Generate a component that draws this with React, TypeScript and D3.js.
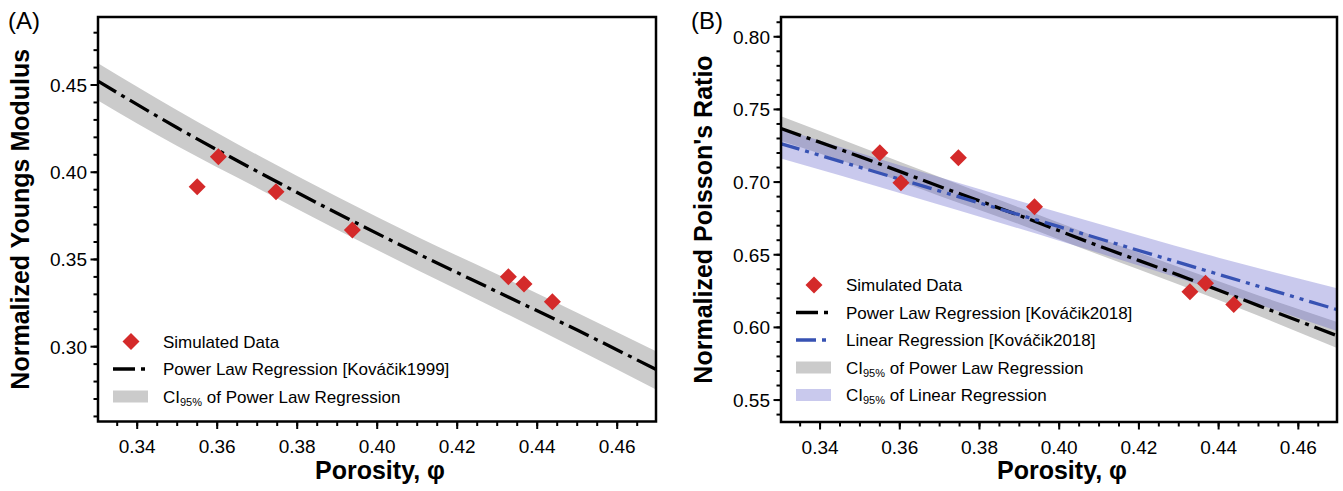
import React, { useEffect, useRef } from 'react';
import * as d3 from 'd3';

// simulated porosity samples (shared by both panels)
const porosity = [0.355, 0.3603, 0.3747, 0.3938, 0.4328, 0.4367, 0.4438];
const youngs = [0.3917, 0.4089, 0.3888, 0.3669, 0.3401, 0.3359, 0.3258];
const poisson = [0.7201, 0.6995, 0.7167, 0.683, 0.6245, 0.6303, 0.6158];

// regression curves
const fitX = [0.33, 0.35, 0.37, 0.39, 0.41, 0.43, 0.45, 0.47];
const youngsFit = [0.4525, 0.4255, 0.4005, 0.3765, 0.3535, 0.3315, 0.3095, 0.2866];
const youngsUpper = [0.4628, 0.4355, 0.41, 0.386, 0.363, 0.3415, 0.3195, 0.2971];
const youngsLower = [0.4414, 0.415, 0.391, 0.367, 0.344, 0.3215, 0.2985, 0.2751];

const poissonFit = [0.737, 0.7175, 0.697, 0.677, 0.656, 0.636, 0.615, 0.594];
const poissonUpper = [0.7455, 0.7245, 0.7035, 0.6825, 0.6615, 0.6415, 0.622, 0.6035];
const poissonLower = [0.7285, 0.7105, 0.6905, 0.671, 0.65, 0.6295, 0.608, 0.5855];

const linX = [0.33, 0.36, 0.40, 0.44, 0.47];
const linFit = [0.7266, 0.702, 0.6693, 0.6365, 0.612];
const linUpper = [0.737, 0.7115, 0.679, 0.648, 0.6268];
const linLower = [0.7163, 0.6925, 0.6596, 0.625, 0.5972];

const xTicks = [0.34, 0.36, 0.38, 0.40, 0.42, 0.44, 0.46];
const youngsTicks = [0.30, 0.35, 0.40, 0.45];
const poissonTicks = [0.55, 0.60, 0.65, 0.70, 0.75, 0.80];

const FONT = '"Liberation Sans", Arial, Helvetica, sans-serif';
const RED = '#d42a2a';
const GREY = '#cbcbcb';
const BLUE = '#3752b3';
const LAVENDER = '#6a6acd';
const DASH_DOT = '22,6,4,6';
const DASH_DOT_DOT = '20,6,4,6,4,6';

const App = () => {
    const ref = useRef();

    useEffect(() => {
        const svg = d3.select(ref.current);
        svg.selectAll('*').remove();

        const diamond = 'M0,-8.5L8.5,0L0,8.5L-8.5,0Z';

        const drawPanel = (cfg) => {
            const g = svg.append('g');
            const x = d3.scaleLinear().domain([0.3302, 0.4697]).range([cfg.left, cfg.right]);
            const y = d3.scaleLinear().domain(cfg.yDomain).range([cfg.bottom, cfg.top]);

            const clipId = 'clip-' + cfg.id;
            svg.append('defs').append('clipPath').attr('id', clipId)
                .append('rect')
                .attr('x', cfg.left).attr('y', cfg.top)
                .attr('width', cfg.right - cfg.left).attr('height', cfg.bottom - cfg.top);

            const plot = g.append('g').attr('clip-path', `url(#${clipId})`);

            cfg.bands.forEach(b => {
                const pts = b.xs.map((v, i) => ({ x: v, lo: b.lo[i], hi: b.hi[i] }));
                const area = d3.area()
                    .x(d => x(d.x))
                    .y0(d => y(d.lo))
                    .y1(d => y(d.hi))
                    .curve(d3.curveMonotoneX);
                plot.append('path').datum(pts)
                    .attr('d', area)
                    .attr('fill', b.color)
                    .attr('fill-opacity', b.opacity);
            });

            cfg.lines.forEach(l => {
                const pts = l.xs.map((v, i) => ({ x: v, y: l.ys[i] }));
                const line = d3.line()
                    .x(d => x(d.x))
                    .y(d => y(d.y))
                    .curve(d3.curveMonotoneX);
                plot.append('path').datum(pts)
                    .attr('d', line)
                    .attr('fill', 'none')
                    .attr('stroke', l.color)
                    .attr('stroke-width', 3.3)
                    .attr('stroke-dasharray', l.dash);
            });

            plot.selectAll('.dot')
                .data(cfg.points)
                .enter().append('path')
                .attr('d', diamond)
                .attr('transform', d => `translate(${x(d.x)},${y(d.y)})`)
                .attr('fill', RED);

            // frame
            g.append('rect')
                .attr('x', cfg.left).attr('y', cfg.top)
                .attr('width', cfg.right - cfg.left).attr('height', cfg.bottom - cfg.top)
                .attr('fill', 'none')
                .attr('stroke', '#000')
                .attr('stroke-width', 2.5);

            // x ticks
            const xMinor = d3.range(0.335, 0.4695, 0.005);
            g.selectAll('.xminor').data(xMinor).enter().append('line')
                .attr('x1', d => x(d)).attr('x2', d => x(d))
                .attr('y1', cfg.bottom).attr('y2', cfg.bottom + 4.5)
                .attr('stroke', '#000').attr('stroke-width', 2);
            g.selectAll('.xmajor').data(xTicks).enter().append('line')
                .attr('x1', d => x(d)).attr('x2', d => x(d))
                .attr('y1', cfg.bottom).attr('y2', cfg.bottom + 7.5)
                .attr('stroke', '#000').attr('stroke-width', 2);
            g.selectAll('.xlabel').data(xTicks).enter().append('text')
                .attr('x', d => x(d))
                .attr('y', cfg.bottom + 31.5)
                .attr('text-anchor', 'middle')
                .attr('font-family', FONT)
                .attr('font-size', 19)
                .text(d => d.toFixed(2));

            // y ticks
            const yMinor = d3.range(Math.ceil(cfg.yDomain[0] * 100), Math.floor(cfg.yDomain[1] * 100) + 1)
                .map(v => v / 100);
            g.selectAll('.yminor').data(yMinor).enter().append('line')
                .attr('x1', cfg.left - 4.5).attr('x2', cfg.left)
                .attr('y1', d => y(d)).attr('y2', d => y(d))
                .attr('stroke', '#000').attr('stroke-width', 2);
            g.selectAll('.ymajor').data(cfg.yTicks).enter().append('line')
                .attr('x1', cfg.left - 7.5).attr('x2', cfg.left)
                .attr('y1', d => y(d)).attr('y2', d => y(d))
                .attr('stroke', '#000').attr('stroke-width', 2);
            g.selectAll('.ylabel').data(cfg.yTicks).enter().append('text')
                .attr('x', cfg.left - 11)
                .attr('y', d => y(d) + 7)
                .attr('text-anchor', 'end')
                .attr('font-family', FONT)
                .attr('font-size', 19)
                .text(d => d.toFixed(2));

            // axis titles
            g.append('text')
                .attr('x', (cfg.left + cfg.right) / 2 + 3)
                .attr('y', 479)
                .attr('text-anchor', 'middle')
                .attr('font-family', FONT)
                .attr('font-weight', 'bold')
                .attr('font-size', 25)
                .text('Porosity, φ');
            g.append('text')
                .attr('transform', `translate(${cfg.left - 69},${(cfg.top + cfg.bottom) / 2}) rotate(-90)`)
                .attr('text-anchor', 'middle')
                .attr('font-family', FONT)
                .attr('font-weight', 'bold')
                .attr('font-size', 25)
                .text(cfg.yTitle);

            // panel tag
            g.append('text')
                .attr('x', cfg.left - 90)
                .attr('y', 29)
                .attr('font-family', FONT)
                .attr('font-size', 24)
                .text(cfg.tag);

            // legend
            const lg = g.append('g').attr('font-family', FONT).attr('font-size', 17);
            cfg.legend.forEach((item, i) => {
                const cy = cfg.legendY + i * cfg.legendStep;
                const lx = cfg.left + 15;
                if (item.kind === 'point') {
                    lg.append('path').attr('d', diamond)
                        .attr('transform', `translate(${lx + 18},${cy})`)
                        .attr('fill', RED);
                } else if (item.kind === 'line') {
                    lg.append('line')
                        .attr('x1', lx).attr('x2', lx + 34)
                        .attr('y1', cy).attr('y2', cy)
                        .attr('stroke', item.color)
                        .attr('stroke-width', 3.3)
                        .attr('stroke-dasharray', item.dash);
                } else {
                    lg.append('rect')
                        .attr('x', lx).attr('y', cy - 6)
                        .attr('width', 35).attr('height', 12)
                        .attr('fill', item.color)
                        .attr('fill-opacity', item.opacity);
                }
                const t = lg.append('text')
                    .attr('x', lx + 50)
                    .attr('y', cy + 6);
                if (item.ci) {
                    t.append('tspan').text('CI');
                    t.append('tspan').attr('font-size', 11).attr('dy', 3).text('95%');
                    t.append('tspan').attr('dy', -3).text(' ' + item.label);
                } else {
                    t.text(item.label);
                }
            });
        };

        drawPanel({
            id: 'a',
            tag: '(A)',
            left: 98, right: 656, top: 17, bottom: 421.5,
            yDomain: [0.2571, 0.489],
            yTicks: youngsTicks,
            yTitle: 'Normalized Youngs Modulus',
            bands: [{ xs: fitX, lo: youngsLower, hi: youngsUpper, color: GREY, opacity: 1 }],
            lines: [{ xs: fitX, ys: youngsFit, color: '#000', dash: DASH_DOT }],
            points: porosity.map((v, i) => ({ x: v, y: youngs[i] })),
            legendY: 341.5,
            legendStep: 27.5,
            legend: [
                { kind: 'point', label: 'Simulated Data' },
                { kind: 'line', label: 'Power Law Regression [Kováčik1999]', color: '#000', dash: DASH_DOT },
                { kind: 'rect', ci: true, label: 'of Power Law Regression', color: GREY, opacity: 1 }
            ]
        });

        drawPanel({
            id: 'b',
            tag: '(B)',
            left: 781, right: 1337, top: 17, bottom: 422,
            yDomain: [0.5349, 0.8136],
            yTicks: poissonTicks,
            yTitle: "Normalized Poisson's Ratio",
            bands: [
                { xs: fitX, lo: poissonLower, hi: poissonUpper, color: GREY, opacity: 1 },
                { xs: linX, lo: linLower, hi: linUpper, color: LAVENDER, opacity: 0.36 }
            ],
            lines: [
                { xs: fitX, ys: poissonFit, color: '#000', dash: DASH_DOT },
                { xs: linX, ys: linFit, color: BLUE, dash: DASH_DOT_DOT }
            ],
            points: porosity.map((v, i) => ({ x: v, y: poisson[i] })),
            legendY: 285,
            legendStep: 27.5,
            legend: [
                { kind: 'point', label: 'Simulated Data' },
                { kind: 'line', label: 'Power Law Regression [Kováčik2018]', color: '#000', dash: DASH_DOT },
                { kind: 'line', label: 'Linear Regression [Kováčik2018]', color: BLUE, dash: DASH_DOT_DOT },
                { kind: 'rect', ci: true, label: 'of Power Law Regression', color: GREY, opacity: 1 },
                { kind: 'rect', ci: true, label: 'of Linear Regression', color: LAVENDER, opacity: 0.36 }
            ]
        });
    }, []);

    return (
        <svg
            ref={ref}
            width={1343}
            height={491}
            style={{ position: 'absolute', left: 0, top: 0, background: '#fff' }}
        />
    );
};

export default App;
